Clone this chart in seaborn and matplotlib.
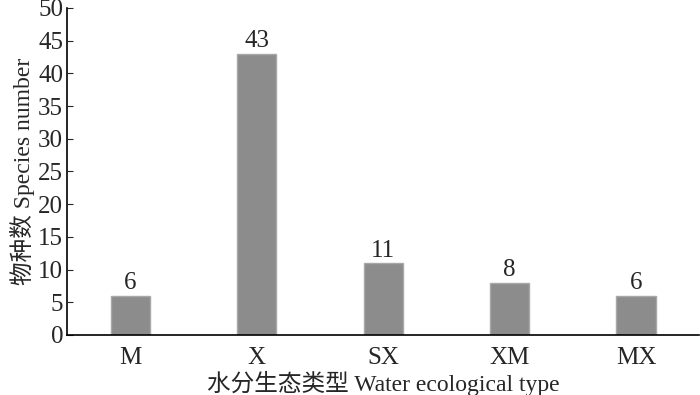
import numpy as np
import pandas as pd
import seaborn as sns
import matplotlib.pyplot as plt

## data
types = ["M", "X", "SX", "XM", "MX"]
counts = [6, 43, 11, 8, 6]
yticks = [0, 5, 10, 15, 20, 25, 30, 35, 40, 45, 50]

df = pd.DataFrame({"type": types, "count": counts})

sns.set_style("ticks")
plt.rcParams['font.family'] = ['Liberation Serif', 'Noto Sans CJK SC']
plt.rcParams['font.size'] = 17

fig = plt.figure(figsize=(7, 3.95), dpi=100)
ax = fig.add_axes([0.096, 0.152, 0.903, 0.828])

sns.barplot(data=df, x="type", y="count", color="#8c8c8c", width=0.31,
            edgecolor="#a8a8a8", linewidth=1, saturation=1, ax=ax)

for i, v in enumerate(counts):
    ax.text(i, v + 0.2, str(v), ha="center", va="bottom", fontsize=18)

ax.set_xlim(-0.5, 4.5)
ax.set_ylim(0, 50)
ax.set_yticks(yticks)
ax.tick_params(axis="y", direction="in", length=4, labelsize=18, pad=3)
ax.tick_params(axis="x", length=0, labelsize=18, pad=9)
ax.set_xlabel("水分生态类型 Water ecological type", fontsize=17, labelpad=1)
ax.set_ylabel("物种数 Species number", fontsize=17, labelpad=2)

sns.despine(ax=ax)
for s in ["left", "bottom"]:
    ax.spines[s].set_linewidth(1.2)
    ax.spines[s].set_color("black")

fig.savefig("out.png", dpi=100)
